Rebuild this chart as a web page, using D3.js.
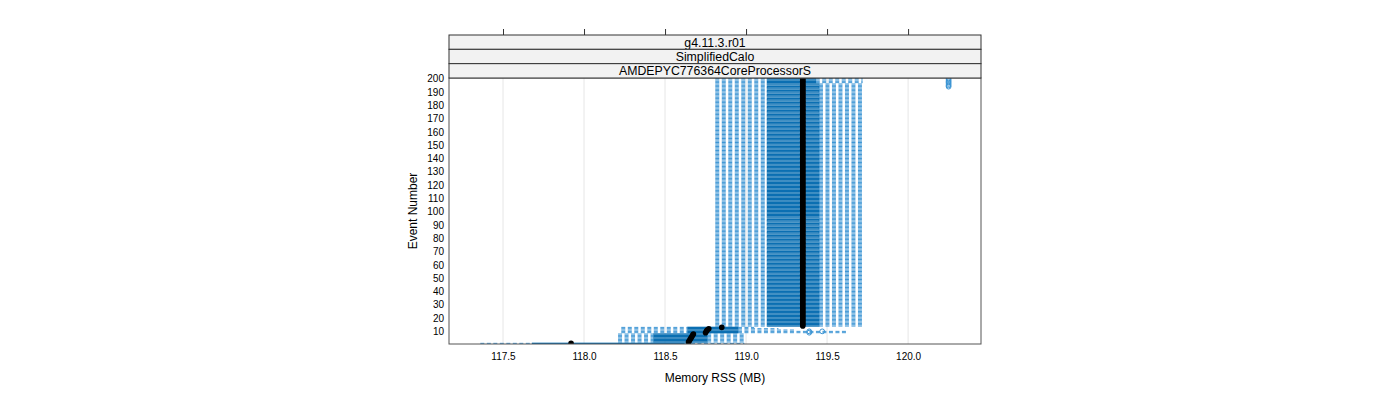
<!DOCTYPE html>
<html><head><meta charset="utf-8">
<script src="https://cdn.jsdelivr.net/npm/d3@7"></script>
<style>body{margin:0;background:#fff;font-family:"Liberation Sans",Arial,sans-serif;}</style>
</head><body><svg id="c" width="1400" height="400"></svg>
<script>
// Strip labels
const strips = ["g4.11.3.r01", "SimplifiedCalo", "AMDEPYC776364CoreProcessorS"];
// Tick labels
const xTicks = [117.5, 118.0, 118.5, 119.0, 119.5, 120.0];
const yTicks = [10,20,30,40,50,60,70,80,90,100,110,120,130,140,150,160,170,180,190,200];
// Box stats, grouped by runs of event numbers (from..to inclusive)
const groupFrom = [1, 2, 3, 4, 5, 6, 7, 8, 9, 10, 11, 12, 13, 14, 197];
const groupTo   = [1, 2, 3, 4, 5, 6, 7, 8, 9, 10, 11, 12, 13, 196, 200];
const whiskLo   = [117.36, 118.21, 118.21, 118.21, 118.21, 118.21, 118.21, 118.21, 118.23, 118.23, 118.23, 118.23, 118.23, 118.81, 118.81];
const q1        = [117.68, 118.43, 118.43, 118.43, 118.43, 118.43, 118.43, 118.43, 118.64, 118.64, 118.64, 118.64, 118.64, 119.13, 119.13];
const median    = [117.92, 118.645, 118.65, 118.655, 118.66, 118.665, 118.67, 118.675, 118.75, 118.755, 118.76, 118.77, 118.85, 119.35, 119.35];
const q3        = [118.62, 118.76, 118.76, 118.76, 118.76, 118.76, 118.76, 118.76, 118.95, 118.95, 118.95, 118.95, 118.95, 119.45, 119.43];
const whiskHi   = [118.99, 118.99, 118.99, 118.99, 118.99, 118.99, 118.99, 118.99, 119.62, 119.62, 119.3, 119.2, 119.05, 119.72, 119.72];
// Outliers: event, value
const outEvent = [9, 10, 10, 194, 195, 196, 197, 198, 199, 200];
const outValue = [119.39, 119.39, 119.47, 120.25, 120.25, 120.25, 120.25, 120.25, 120.25, 120.25];

const svg = d3.select("#c");
const L = 449, R = 981, T = 78, B = 344;
const x = d3.scaleLinear().domain([117.1667, 120.45]).range([L, R]);
const y = d3.scaleLinear().domain([0.5, 200.5]).range([B, T]);

// rows
const rows = [];
groupFrom.forEach((f, i) => {
  for (let e = f; e <= groupTo[i]; e++) rows.push({e, lo: whiskLo[i], q1: q1[i], med: median[i], q3: q3[i], hi: whiskHi[i]});
});

// grid
svg.append("g").selectAll("line").data(xTicks).join("line")
  .attr("x1", d => x(d)).attr("x2", d => x(d)).attr("y1", T).attr("y2", B)
  .attr("stroke", "#e6e6e6").attr("stroke-width", 1);

const band = Math.abs(y(2) - y(1));
const bh = band * 0.5;
const boxCol = "#0b6fb2", whCol = "#3c95d4";
const g = svg.append("g").attr("clip-path", "url(#clip)");
svg.append("clipPath").attr("id", "clip").append("rect").attr("x", L).attr("y", T).attr("width", R - L).attr("height", B - T);

// whiskers
g.append("g").selectAll("line").data(rows).join("line")
  .attr("x1", d => x(d.lo)).attr("x2", d => x(d.q1)).attr("y1", d => y(d.e)).attr("y2", d => y(d.e))
  .attr("stroke", whCol).attr("stroke-width", 1).attr("stroke-dasharray", "4,2.5");
g.append("g").selectAll("line").data(rows).join("line")
  .attr("x1", d => x(d.q3)).attr("x2", d => x(d.hi)).attr("y1", d => y(d.e)).attr("y2", d => y(d.e))
  .attr("stroke", whCol).attr("stroke-width", 1).attr("stroke-dasharray", "4,2.5");
// boxes
g.append("g").selectAll("rect").data(rows).join("rect")
  .attr("x", d => x(d.q1)).attr("width", d => x(d.q3) - x(d.q1))
  .attr("y", d => y(d.e) - bh / 2).attr("height", bh)
  .attr("fill", "none").attr("stroke", boxCol).attr("stroke-width", 0.7);
// outliers
g.append("g").selectAll("circle").data(outEvent.map((e, i) => ({e, v: outValue[i]}))).join("circle")
  .attr("cx", d => x(d.v)).attr("cy", d => y(d.e)).attr("r", 2.4)
  .attr("fill", "none").attr("stroke", whCol).attr("stroke-width", 1);
// medians
g.append("g").selectAll("circle").data(rows).join("circle")
  .attr("cx", d => x(d.med)).attr("cy", d => y(d.e)).attr("r", 2.8).attr("fill", "#000");

// panel border
svg.append("rect").attr("x", L).attr("y", T).attr("width", R - L).attr("height", B - T)
  .attr("fill", "none").attr("stroke", "#555").attr("stroke-width", 1);

// strips
const sTop = 35, sH = (T - sTop) / 3;
strips.forEach((s, i) => {
  svg.append("rect").attr("x", L).attr("y", sTop + i * sH).attr("width", R - L).attr("height", sH)
    .attr("fill", "#f2f2f2").attr("stroke", "#333").attr("stroke-width", 1);
  svg.append("text").attr("x", (L + R) / 2).attr("y", sTop + i * sH + sH / 2 + 4.5)
    .attr("text-anchor", "middle").attr("font-size", 12.3).attr("fill", "#000").text(s);
});

// top ticks
svg.append("g").attr("transform", `translate(0,${sTop})`)
  .call(d3.axisTop(x).tickValues(xTicks).tickSize(6).tickFormat(""))
  .call(a => a.select(".domain").remove())
  .call(a => a.selectAll("line").attr("stroke", "#333"));

// bottom axis
svg.append("g").attr("transform", `translate(0,${B})`)
  .call(d3.axisBottom(x).tickValues(xTicks).tickSize(0).tickPadding(9).tickFormat(d3.format(".1f")))
  .call(a => a.select(".domain").remove())
  .call(a => a.selectAll("text").attr("font-size", 10).attr("font-family", "Liberation Sans, Arial, sans-serif").attr("fill", "#000"));

// left axis
svg.append("g").attr("transform", `translate(${L},0)`)
  .call(d3.axisLeft(y).tickValues(yTicks).tickSize(0).tickPadding(5))
  .call(a => a.select(".domain").remove())
  .call(a => a.selectAll("text").attr("font-size", 10).attr("font-family", "Liberation Sans, Arial, sans-serif").attr("fill", "#000"));

// titles
svg.append("text").attr("x", (L + R) / 2).attr("y", 382).attr("text-anchor", "middle")
  .attr("font-size", 12).text("Memory RSS (MB)");
svg.append("text").attr("transform", `translate(417,${(T + B) / 2}) rotate(-90)`).attr("text-anchor", "middle")
  .attr("font-size", 12).text("Event Number");
</script></body></html>
